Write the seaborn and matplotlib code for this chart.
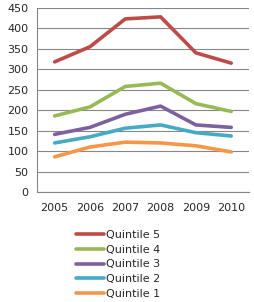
import matplotlib
matplotlib.use("Agg")
import matplotlib.pyplot as plt
import seaborn as sns
import pandas as pd

years = ["2005", "2006", "2007", "2008", "2009", "2010"]
q5 = [318, 355, 423, 428, 340, 315]
q4 = [186, 208, 258, 266, 216, 197]
q3 = [141, 158, 190, 210, 164, 158]
q2 = [120, 135, 156, 164, 145, 137]
q1 = [86, 110, 122, 120, 113, 98]
names = ["Quintile 5", "Quintile 4", "Quintile 3", "Quintile 2", "Quintile 1"]
colors = ["#BE4B48", "#98B954", "#7D60A0", "#46AAC5", "#F79646"]

rows = []
for name, vals in zip(names, [q5, q4, q3, q2, q1]):
    for i, v in enumerate(vals):
        rows.append({"pos": i, "value": v, "series": name})
df = pd.DataFrame(rows)

sns.set_style("white")
plt.rcParams["font.family"] = ["DejaVu Sans"]

fig = plt.figure(figsize=(2.55, 3.02), dpi=100)
ax = fig.add_axes([0.145, 0.364, 0.831, 0.61])

sns.lineplot(data=df, x="pos", y="value", hue="series", hue_order=names,
             palette=colors, linewidth=2.6, ax=ax, legend=False)

ax.set_xlim(-0.5, 5.5)
ax.set_ylim(0, 450)
ax.set_yticks(range(0, 451, 50))
ax.yaxis.grid(True, color="#878787", linewidth=0.8)
ax.set_axisbelow(True)
ax.set_xticks(range(6))
ax.set_xticklabels(years, fontsize=8)
ax.set_xticks([i - 0.5 for i in range(7)], minor=True)
ax.tick_params(axis="x", which="major", length=0, pad=8)
ax.tick_params(axis="x", which="minor", length=4, color="#878787", width=0.8)
ax.tick_params(axis="y", labelsize=8, length=4, color="#878787", width=0.8, pad=2)
ax.set_xlabel("")
ax.set_ylabel("")
for s in ["top", "right"]:
    ax.spines[s].set_visible(False)
for s in ["left", "bottom"]:
    ax.spines[s].set_color("#878787")
    ax.spines[s].set_linewidth(0.8)

handles = [plt.Line2D([], [], color=c, linewidth=2.6) for c in colors]
fig.legend(handles, names, loc="upper left", bbox_to_anchor=(0.30, 0.238),
           frameon=False, fontsize=8, handlelength=2.5, handletextpad=0.2,
           labelspacing=0.42, borderpad=0, borderaxespad=0)

fig.savefig("out.png", dpi=100)
